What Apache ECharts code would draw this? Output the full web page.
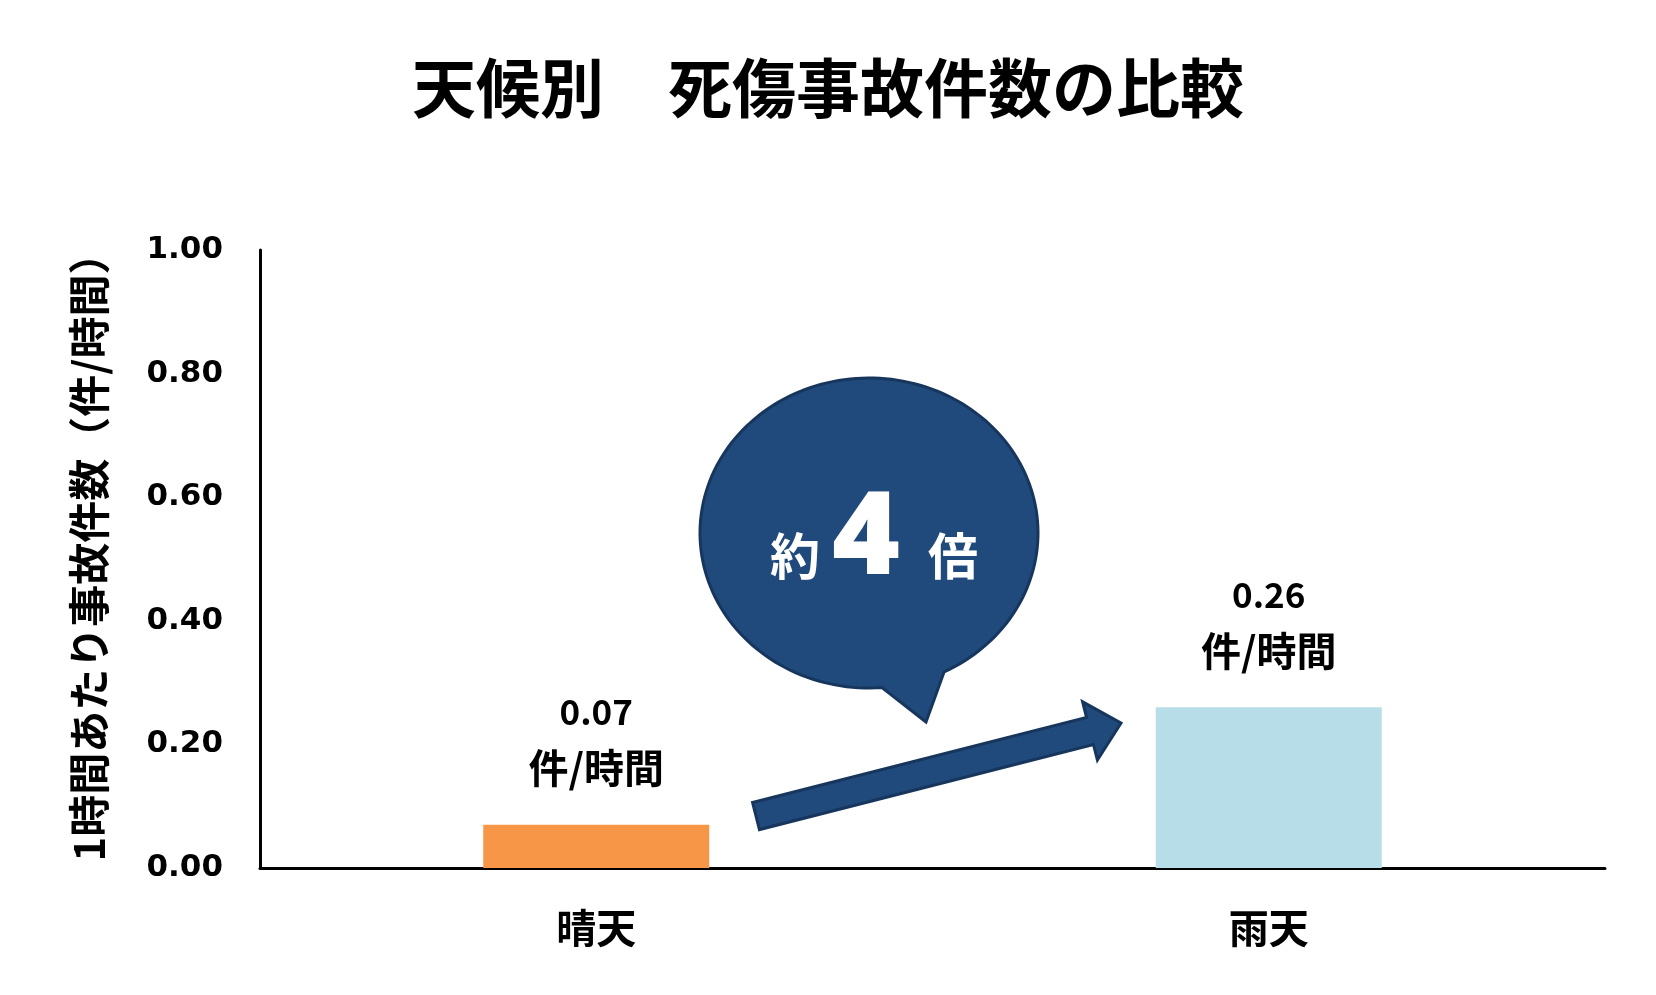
<!DOCTYPE html>
<html>
<head>
<meta charset="utf-8">
<script src="https://cdn.jsdelivr.net/npm/echarts@6/dist/echarts.min.js"></script>
<style>
html,body{margin:0;padding:0;background:#fff;}
#main{width:1656px;height:995px;}
</style>
</head>
<body>
<div id="main"></div>
<script>
const categories = ['晴天', '雨天'];
const values = [0.07, 0.26];
const unitText = '件/時間';
const titleText = '天候別　死傷事故件数の比較';
const yAxisName = '1時間あたり事故件数（件/時間）';
const calloutText = ['約', '4', '倍'];
const yMin = 0, yMax = 1, yInterval = 0.2;

const barColors = ['#F79646', '#B7DDE8'];
const CJK = '"Noto Sans CJK JP", "Noto Sans", sans-serif';

// Callout bubble outline (annotation shape)
function bubblePoints() {
  const cx = 869, cy = 533, rx = 169, ry = 155;
  const a0 = 85.6, a1 = 360 + 63.6;
  const pts = [];
  for (let a = a0; a <= a1; a += 2) {
    const r = a * Math.PI / 180;
    pts.push([cx + rx * Math.cos(r), cy + ry * Math.sin(r)]);
  }
  const r1 = a1 * Math.PI / 180;
  pts.push([cx + rx * Math.cos(r1), cy + ry * Math.sin(r1)]);
  pts.push([926, 722]);
  return pts;
}
function arrowPoints() {
  const S = [756, 816], T = [1121, 723];
  const dx = T[0] - S[0], dy = T[1] - S[1];
  const L = Math.hypot(dx, dy);
  const u = [dx / L, dy / L], n = [-u[1], u[0]];
  const hw = 14, hh = 30, hl = 32;
  const B = [T[0] - u[0] * hl, T[1] - u[1] * hl];
  const p = (base, k) => [base[0] + n[0] * k, base[1] + n[1] * k];
  return [p(S, -hw), p(B, -hw), p(B, -hh), T, p(B, hh), p(B, hw), p(S, hw)];
}

const chart = echarts.init(document.getElementById('main'));
chart.setOption({
  backgroundColor: '#fff',
  animation: false,
  title: {
    text: titleText,
    left: 'center',
    top: 51,
    textStyle: { fontFamily: CJK, fontSize: 64, fontWeight: 'bold', color: '#000' }
  },
  grid: { left: 260, right: 51, top: 250, bottom: 127 },
  xAxis: {
    type: 'category',
    data: categories,
    axisLine: { lineStyle: { color: '#000', width: 3 } },
    axisTick: { show: false },
    axisLabel: { margin: 40, fontFamily: CJK, fontSize: 40, fontWeight: 'bold', color: '#000' }
  },
  yAxis: {
    type: 'value',
    min: yMin, max: yMax, interval: yInterval,
    name: yAxisName,
    nameLocation: 'middle',
    nameGap: 150,
    nameTextStyle: { fontFamily: CJK, fontSize: 42, fontWeight: 'bold', color: '#000', padding: [0, 0, 0, 24] },
    axisLine: { show: true, lineStyle: { color: '#000', width: 3 } },
    axisTick: { show: false },
    splitLine: { show: false },
    axisLabel: {
      margin: 37,
      formatter: v => v.toFixed(2),
      fontFamily: '"DejaVu Sans", Verdana, sans-serif',
      fontSize: 31, fontWeight: 'bold', color: '#000'
    }
  },
  series: [{
    type: 'bar',
    barWidth: 226,
    data: values.map((v, i) => ({ value: v, itemStyle: { color: barColors[i] } })),
    label: {
      show: true,
      position: 'top',
      distance: 29,
      formatter: p => '{a|' + p.value.toFixed(2) + '}\n{b|' + unitText + '}',
      rich: {
        a: { fontFamily: CJK, fontSize: 35, fontWeight: 'bold', color: '#000', lineHeight: 56, align: 'center' },
        b: { fontFamily: CJK, fontSize: 40, fontWeight: 'bold', color: '#000', lineHeight: 56, align: 'center' }
      }
    }
  }],
  graphic: [
    {
      type: 'polygon',
      shape: { points: arrowPoints() },
      style: { fill: '#204A7B', stroke: '#17365D', lineWidth: 3 },
      z: 10
    },
    {
      type: 'polygon',
      shape: { points: bubblePoints() },
      style: { fill: '#204A7B', stroke: '#17365D', lineWidth: 3 },
      z: 10
    },
    {
      type: 'text', x: 795, y: 556, z: 11,
      style: { text: calloutText[0], fill: '#fff', font: 'bold 50px ' + CJK, textAlign: 'center', textVerticalAlign: 'middle' }
    },
    {
      type: 'text', x: 866, y: 541, z: 11,
      style: { text: calloutText[1], fill: '#fff', font: '900 116px "Noto Sans", Roboto, sans-serif', textAlign: 'center', textVerticalAlign: 'middle' }
    },
    {
      type: 'text', x: 953, y: 556, z: 11,
      style: { text: calloutText[2], fill: '#fff', font: 'bold 50px ' + CJK, textAlign: 'center', textVerticalAlign: 'middle' }
    }
  ]
});
</script>
</body>
</html>
